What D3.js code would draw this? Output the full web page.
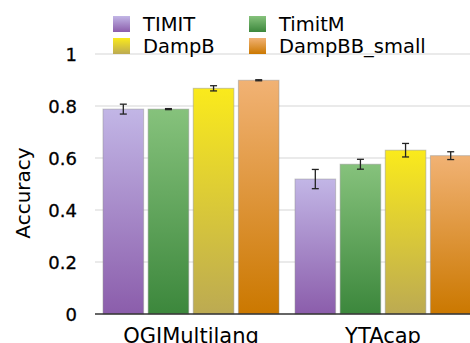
<!DOCTYPE html>
<html lang="en">
<head>
<meta charset="utf-8">
<title>Accuracy bar chart</title>
<script src="https://cdn.jsdelivr.net/npm/d3@7"></script>
<style>
  body, html { margin: 0; background: #fff; }
  text { font-family: 'DejaVu Sans', sans-serif; fill: #000; }
  .grid line { stroke: #e3e3e3; stroke-width: 1.5px; }
  .err { stroke: #222; stroke-width: 1.3px; }
</style>
</head>
<body>
<script>
// data
var categories = ["OGIMultilang", "YTAcap"];
var series = ["TIMIT", "TimitM", "DampB", "DampBB_small"];
var timitVals  = [0.788, 0.519];
var timitmVals = [0.788, 0.576];
var dampbVals  = [0.868, 0.630];
var dampbbVals = [0.899, 0.609];
var timitErr  = [0.019, 0.037];
var timitmErr = [0.002, 0.019];
var dampbErr  = [0.010, 0.026];
var dampbbErr = [0.002, 0.015];
var yTicks = [0, 0.2, 0.4, 0.6, 0.8, 1];

var values = [timitVals, timitmVals, dampbVals, dampbbVals];
var errors = [timitErr, timitmErr, dampbErr, dampbbErr];
// top and bottom colour of each gradient
var colors = [
  ["#c2b6e6", "#8b5dab"],
  ["#86c27c", "#3c873c"],
  ["#faea1c", "#bcaa52"],
  ["#f1b274", "#cb7800"]
];

var w = 470, h = 343;
var svg = d3.select("body").append("svg").attr("width", w).attr("height", h);

var x0 = d3.scaleBand().domain(categories).range([95, 479]);
var x1 = d3.scaleBand().domain(series).range([8, x0.bandwidth() - 8]).paddingInner(0.1);
var y = d3.scaleLinear().domain([0, 1]).range([314, 54]);

var defs = svg.append("defs");
series.forEach(function(s, i) {
  var g = defs.append("linearGradient").attr("id", "grad" + i)
    .attr("x1", 0).attr("y1", 0).attr("x2", 0).attr("y2", 1);
  g.append("stop").attr("offset", "0%").attr("stop-color", colors[i][0]);
  g.append("stop").attr("offset", "100%").attr("stop-color", colors[i][1]);
});

// gridlines
svg.append("g").attr("class", "grid")
  .selectAll("line").data(yTicks.slice(1)).enter().append("line")
  .attr("x1", 95).attr("x2", w)
  .attr("y1", function(d) { return y(d); })
  .attr("y2", function(d) { return y(d); });

// tick labels
svg.append("g").selectAll("text").data(yTicks).enter().append("text")
  .attr("x", 77).attr("y", function(d) { return y(d) + 7; })
  .attr("text-anchor", "end").style("font-size", "18px")
  .style("stroke", "#000").style("stroke-width", 0.3)
  .text(function(d) { return d; });

// bars
var bars = [];
categories.forEach(function(c, ci) {
  series.forEach(function(s, si) {
    bars.push({ c: c, s: s, si: si, v: values[si][ci], e: errors[si][ci] });
  });
});

svg.append("g").selectAll("rect").data(bars).enter().append("rect")
  .attr("x", function(d) { return x0(d.c) + x1(d.s); })
  .attr("y", function(d) { return y(d.v); })
  .attr("width", x1.bandwidth())
  .attr("height", function(d) { return y(0) - y(d.v); })
  .attr("fill", function(d) { return "url(#grad" + d.si + ")"; })
  .attr("stroke", "rgba(150,150,150,0.5)")
  .attr("stroke-width", 1);

// error bars
var eg = svg.append("g").selectAll("g").data(bars).enter().append("g").attr("class", "err");
eg.append("line")
  .attr("x1", function(d) { return x0(d.c) + x1(d.s) + x1.bandwidth() / 2; })
  .attr("x2", function(d) { return x0(d.c) + x1(d.s) + x1.bandwidth() / 2; })
  .attr("y1", function(d) { return y(d.v + d.e); })
  .attr("y2", function(d) { return y(d.v - d.e); });
[1, -1].forEach(function(sign) {
  eg.append("line")
    .attr("x1", function(d) { return x0(d.c) + x1(d.s) + x1.bandwidth() / 2 - 3.5; })
    .attr("x2", function(d) { return x0(d.c) + x1(d.s) + x1.bandwidth() / 2 + 3.5; })
    .attr("y1", function(d) { return y(d.v + sign * d.e); })
    .attr("y2", function(d) { return y(d.v + sign * d.e); });
});

// baseline
svg.append("line").attr("x1", 95).attr("x2", w).attr("y1", y(0)).attr("y2", y(0))
  .attr("stroke", "#333").attr("stroke-width", 1.3);

// category labels (cut at the bottom edge, as in the source image)
svg.append("g").selectAll("text").data(categories).enter().append("text")
  .attr("x", function(d) { return x0(d) + x0.bandwidth() / 2; })
  .attr("y", 343).attr("text-anchor", "middle").style("font-size", "21px")
  .text(function(d) { return d; });

// y axis title
svg.append("text").attr("transform", "translate(30,193) rotate(-90)")
  .attr("text-anchor", "middle").style("font-size", "20px").text("Accuracy");

// legend
var lg = svg.append("g").selectAll("g").data(series).enter().append("g")
  .attr("transform", function(d, i) {
    return "translate(" + (i % 2 === 0 ? 113 : 249) + "," + (i < 2 ? 16 : 38) + ")";
  });
lg.append("rect").attr("width", 17).attr("height", 16)
  .attr("fill", function(d, i) { return "url(#grad" + series.indexOf(d) + ")"; });
lg.append("text").attr("x", 30).attr("y", 15).style("font-size", "19.5px")
  .text(function(d) { return d; });
</script>
</body>
</html>
